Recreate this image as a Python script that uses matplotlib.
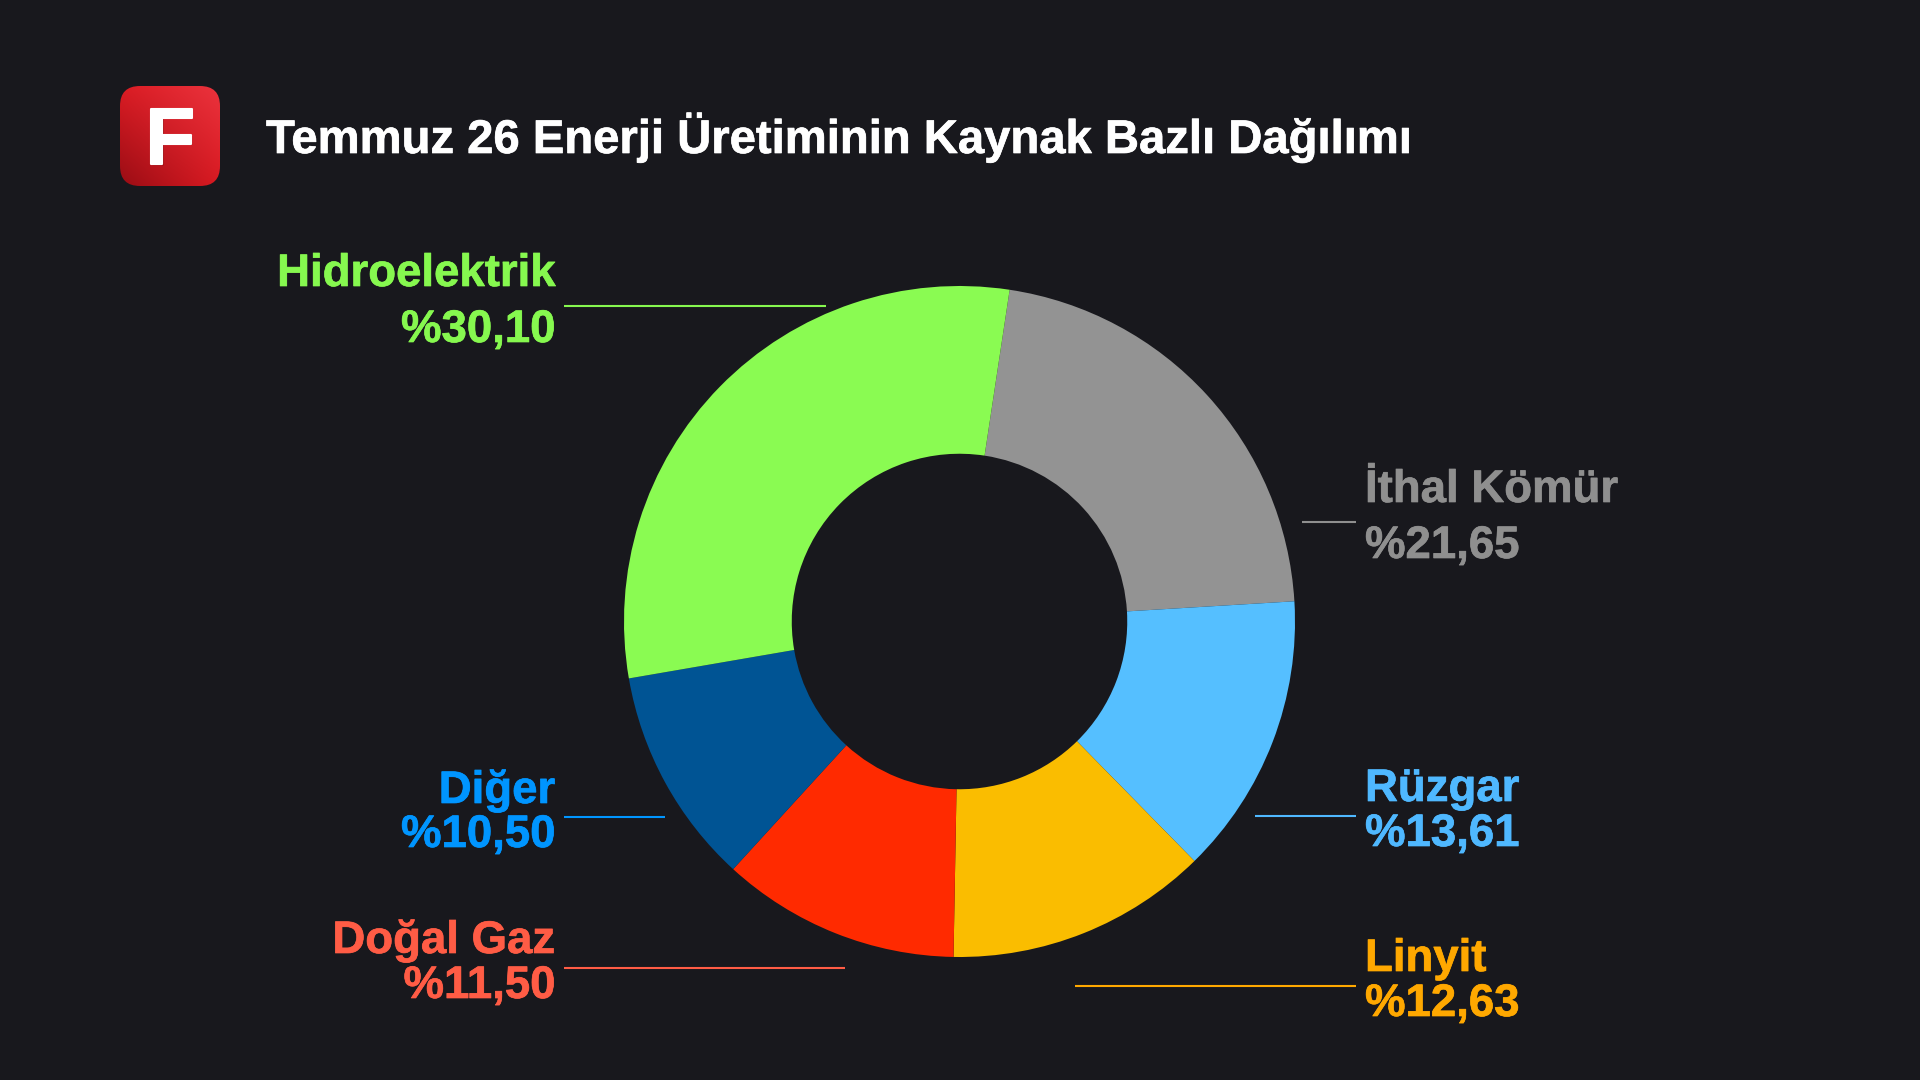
import numpy as np
import matplotlib
matplotlib.use("Agg")
import matplotlib.pyplot as plt
import matplotlib.patheffects as pe
from matplotlib.patches import FancyBboxPatch


# -----------------------------------------
# data
# -----------------------------------------
sources = ["İthal Kömür", "Rüzgar", "Linyit", "Doğal Gaz", "Diğer", "Hidroelektrik"]
shares = [21.65, 13.61, 12.63, 11.50, 10.50, 30.10]
share_labels = ["%21,65", "%13,61", "%12,63", "%11,50", "%10,50", "%30,10"]

# -----------------------------------------
# styles and layout (pixels, top-left origin)
# -----------------------------------------
slice_colors = ["#939393", "#55BFFF", "#FABD00", "#FF2A00", "#005494", "#8AFB52"]
label_colors = ["#8F8F8F", "#4FB8FF", "#FFA800", "#FF5C45", "#0095FF", "#86F84F"]
bg_color = "#18181D"

label_x = [1365, 1365, 1365, 555, 555, 555]
label_ha = ["left", "left", "left", "right", "right", "right"]
name_y = [502, 801, 971, 953, 803, 286]
value_y = [558, 846, 1016, 998, 847, 342]
line_x = [(1302, 1356), (1255, 1356), (1075, 1356), (564, 845), (564, 665), (564, 826)]
line_y = [522, 815.5, 986, 967.5, 817, 305.5]

plt.rcParams["font.family"] = ["Liberation Sans", "DejaVu Sans"]

fig = plt.figure(figsize=(19.2, 10.8), dpi=100, facecolor=bg_color)

# donut
cx, cy, r = 959.5, 621.5, 335.5
ax = fig.add_axes([(cx - r) / 1920, 1 - (cy + r) / 1080, 2 * r / 1920, 2 * r / 1080])
ax.pie(
    shares,
    colors=slice_colors,
    startangle=81.4,
    counterclock=False,
    radius=1,
    wedgeprops={"width": 0.5, "linewidth": 0},
)
ax.set_xlim(-1, 1)
ax.set_ylim(-1, 1)

# overlay for texts, leader lines and the logo
over = fig.add_axes([0, 0, 1, 1])
over.set_xlim(0, 1920)
over.set_ylim(1080, 0)
over.axis("off")
over.patch.set_alpha(0)


def bold_text(x, y, s, color, size, ha):
    t = over.text(x, y, s, color=color, fontsize=size, fontweight="bold", ha=ha, va="baseline")
    t.set_path_effects([pe.withStroke(linewidth=0.5, foreground=color)])
    return t


for i, source in enumerate(sources):
    bold_text(label_x[i], name_y[i], source, label_colors[i], 32.8, label_ha[i])
    bold_text(label_x[i], value_y[i], share_labels[i], label_colors[i], 32.8, label_ha[i])
    over.plot(line_x[i], [line_y[i], line_y[i]], color=label_colors[i], lw=1.5,
              solid_capstyle="butt")

bold_text(266, 153, "Temmuz 26 Enerji Üretiminin Kaynak Bazlı Dağılımı", "white", 34, "left")

# logo: rounded square, red gradient from the four corner colours
yy, xx = np.mgrid[0:1:200j, 0:1:200j]
yy, xx = yy[..., None], xx[..., None]
top_left = np.array([0.86, 0.11, 0.14])
top_right = np.array([0.92, 0.20, 0.24])
bottom_left = np.array([0.60, 0.05, 0.08])
bottom_right = np.array([0.85, 0.10, 0.13])
grad = ((1 - yy) * ((1 - xx) * top_left + xx * top_right)
        + yy * ((1 - xx) * bottom_left + xx * bottom_right))
img = over.imshow(grad, extent=(120, 220, 186, 86), aspect="auto", zorder=2)
clip = FancyBboxPatch((140, 106), 60, 60, boxstyle="round,pad=20,rounding_size=20",
                      transform=over.transData, facecolor="none", edgecolor="none")
over.add_patch(clip)
img.set_clip_path(clip)
over.set_xlim(0, 1920)
over.set_ylim(1080, 0)
over.text(171, 165.5, "F", color="#70060A", alpha=0.35, fontsize=58, fontweight="bold",
          ha="center", va="baseline", zorder=3)
logo_f = over.text(170, 164, "F", color="white", fontsize=58, fontweight="bold",
                   ha="center", va="baseline", zorder=4)
logo_f.set_path_effects([pe.withStroke(linewidth=1.5, foreground="white")])

fig.savefig("out.png", dpi=100, facecolor=bg_color)
